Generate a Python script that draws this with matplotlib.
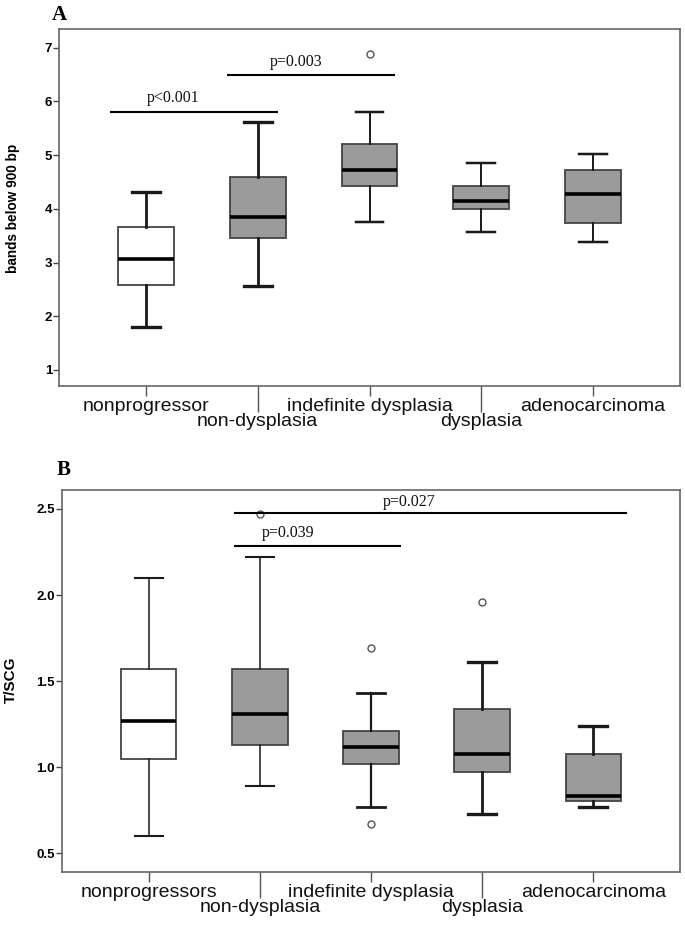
import matplotlib
matplotlib.use("Agg")
import matplotlib.pyplot as plt

# ---------------- data ----------------
cats_a = ["nonprogressor", "non-dysplasia", "indefinite dysplasia", "dysplasia", "adenocarcinoma"]
a_whislo = [1.80, 2.56, 3.75, 3.56, 3.38]
a_q1 = [2.59, 3.46, 4.42, 3.99, 3.73]
a_med = [3.07, 3.84, 4.72, 4.15, 4.27]
a_q3 = [3.66, 4.59, 5.20, 4.42, 4.73]
a_whishi = [4.32, 5.62, 5.81, 4.85, 5.03]
a_fliers = [[], [], [6.88], [], []]

cats_b = ["nonprogressors", "non-dysplasia", "indefinite dysplasia", "dysplasia", "adenocarcinoma"]
b_whislo = [0.60, 0.89, 0.77, 0.73, 0.77]
b_q1 = [1.05, 1.13, 1.02, 0.97, 0.805]
b_med = [1.27, 1.31, 1.12, 1.08, 0.834]
b_q3 = [1.57, 1.57, 1.21, 1.34, 1.08]
b_whishi = [2.10, 2.22, 1.43, 1.61, 1.24]
b_fliers = [[], [2.47], [1.69, 0.67], [1.96], []]

# significance annotations: (x_start, x_end, y_line, text, x_text, y_text)
a_sig = [(0.68, 2.18, 5.81, "p<0.001", 1.24, 6.07),
         (1.72, 3.23, 6.50, "p=0.003", 2.34, 6.74)]
b_sig = [(1.77, 3.27, 2.286, "p=0.039", 2.25, 2.363),
         (1.77, 5.30, 2.477, "p=0.027", 3.34, 2.54)]

box_colors = ["white", "#9b9b9b", "#9b9b9b", "#9b9b9b", "#9b9b9b"]
a_whisk_lw = [2.0, 2.0, 1.4, 1.4, 1.4]
b_whisk_lw = [1.1, 1.1, 1.6, 2.0, 2.0]

SANS = ["Liberation Sans", "DejaVu Sans"]
SERIF = ["Liberation Serif", "DejaVu Serif"]

fig = plt.figure(figsize=(6.85, 9.25), dpi=100)
axA = fig.add_axes([59/685, 1-386/925, (680-59)/685, (386-29)/925])
axB = fig.add_axes([62/685, 1-872/925, (680-62)/685, (872-490)/925])


def draw(ax, cats, lo, q1, med, q3, hi, fl, wlw, sig, ylim, yticks, yfmt, ylabel, ylabel_size):
    stats = []
    for i in range(len(cats)):
        stats.append(dict(whislo=lo[i], q1=q1[i], med=med[i], q3=q3[i], whishi=hi[i], fliers=fl[i]))
    pos = list(range(1, len(cats) + 1))
    for i, st in enumerate(stats):
        ax.bxp([st], positions=[pos[i]], widths=0.5, patch_artist=True, showfliers=True,
               boxprops=dict(facecolor=box_colors[i], edgecolor="#444444", linewidth=1.3),
               medianprops=dict(color="black", linewidth=2.6),
               whiskerprops=dict(color="#1a1a1a", linewidth=wlw[i]),
               capprops=dict(color="#1a1a1a", linewidth=wlw[i] + 0.4),
               capwidths=0.25,
               flierprops=dict(marker="o", markersize=5, markerfacecolor="white",
                               markeredgecolor="#555555", markeredgewidth=1.0))
    for (x0, x1, yl, txt, xt, yt) in sig:
        ax.plot([x0, x1], [yl, yl], color="black", linewidth=1.5, solid_capstyle="butt")
        ax.text(xt, yt, txt, ha="center", va="center", fontsize=11.5, family=SERIF, color="#111111")
    ax.set_xlim(0.22, 5.78)
    ax.set_ylim(*ylim)
    ax.set_yticks(yticks)
    ax.set_yticklabels([yfmt.format(v) for v in yticks], fontsize=9.5, fontweight="bold", family=SANS)
    ax.tick_params(axis="y", length=4, width=1.0, color="#444444", pad=1)
    ax.set_xticks([1, 3, 5])
    ax.set_xticklabels([cats[0], cats[2], cats[4]], fontsize=14, family=SANS, color="#111111")
    ax.set_xticks([2, 4], minor=True)
    ax.set_xticklabels([cats[1], cats[3]], minor=True, fontsize=14, family=SANS, color="#111111")
    ax.tick_params(axis="x", which="major", length=7, width=1.0, color="#555555", pad=1.5)
    ax.tick_params(axis="x", which="minor", length=19, width=1.0, color="#555555", pad=0.8)
    for s in ax.spines.values():
        s.set_color("#666666")
        s.set_linewidth(1.2)
    ax.set_ylabel(ylabel, fontsize=ylabel_size, fontweight="bold", family=SANS)


draw(axA, cats_a, a_whislo, a_q1, a_med, a_q3, a_whishi, a_fliers, a_whisk_lw, a_sig,
     (0.70, 7.35), [1, 2, 3, 4, 5, 6, 7], "{:.0f}", "bands below 900 bp", 9.8)
axA.yaxis.set_label_coords(-0.063, (386 - 208) / (386 - 29))
draw(axB, cats_b, b_whislo, b_q1, b_med, b_q3, b_whishi, b_fliers, b_whisk_lw, b_sig,
     (0.392, 2.61), [0.5, 1.0, 1.5, 2.0, 2.5], "{:.1f}", "T/SCG", 11)
axB.yaxis.set_label_coords(-0.072, (872 - 680) / (872 - 490))

fig.text(52/685, 1-15/925, "A", fontsize=15, fontweight="bold", family=SERIF, ha="left", va="center")
fig.text(57/685, 1-470/925, "B", fontsize=15, fontweight="bold", family=SERIF, ha="left", va="center")

fig.savefig("out.png", dpi=100)
